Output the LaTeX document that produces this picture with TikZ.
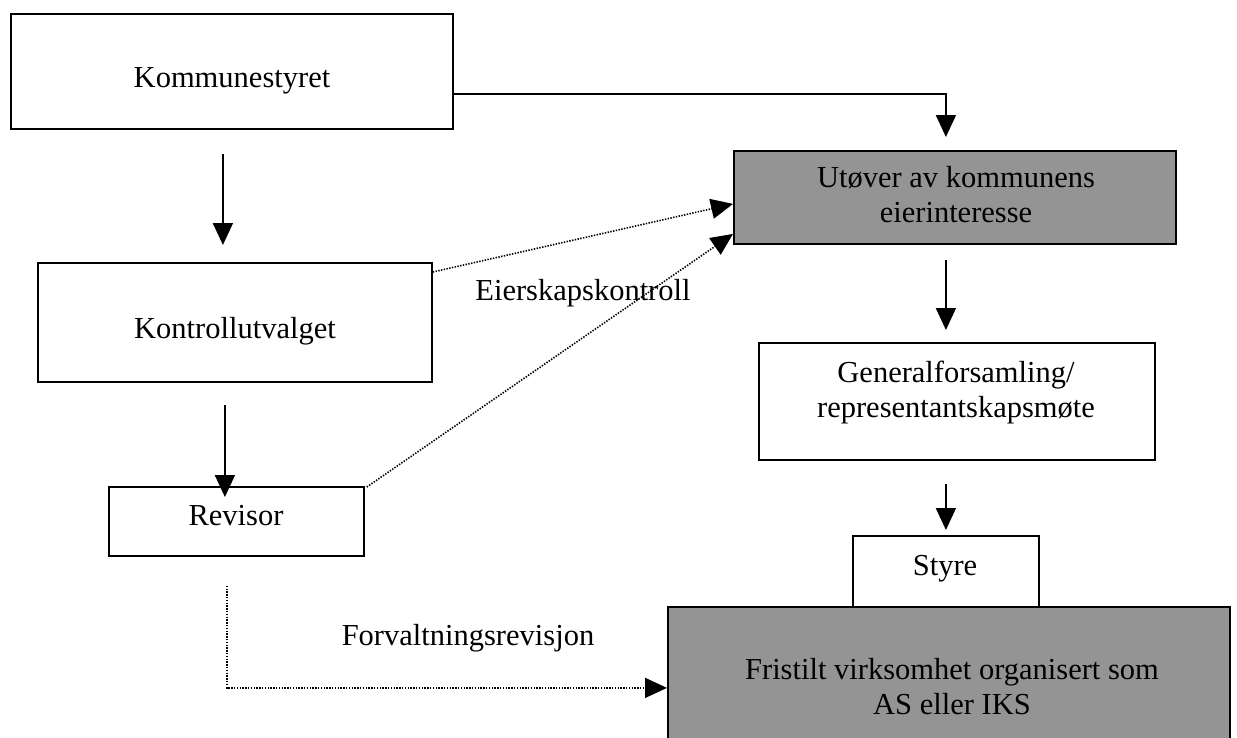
\documentclass[tikz,border=0pt]{standalone}
\usepackage{fontspec}
\setmainfont{Liberation Serif}
\usetikzlibrary{arrows.meta,calc}
\begin{document}
\begin{tikzpicture}[x=1pt,y=-1pt,
  box/.style={draw=black, line width=1.8pt, inner sep=0pt, anchor=north west},
  shaded/.style={box, fill=black!42},
  txt/.style={font=\fontsize{30.5}{35}\selectfont, anchor=base, inner sep=0pt},
  arr/.style={line width=1.8pt, -{Triangle[length=22pt,width=20pt]}},
  darr/.style={line width=1.6pt, dash pattern=on 1.4pt off 1.4pt, -{Triangle[length=22pt,width=20pt]}}
]
\useasboundingbox (0,0) rectangle (1237,737);
\clip (0,0) rectangle (1237,737);

% boxes
\node[box, minimum width=442pt, minimum height=115pt] (k) at (10,13) {};
\node[box, minimum width=394pt, minimum height=119pt] (kv) at (37,262) {};
\node[box, minimum width=255pt, minimum height=69pt] (rev) at (108,486) {};
\node[shaded, minimum width=442pt, minimum height=93pt] (u) at (733,150) {};
\node[box, minimum width=396pt, minimum height=117pt] (gen) at (758,342) {};
\node[box, minimum width=186pt, minimum height=72pt] (sty) at (852,535) {};
\node[shaded, minimum width=562pt, minimum height=180pt] (fr) at (667,606) {};

% texts
\node[txt] (kt) at (232,87) {Kommunestyret};
\node[txt] (kvt) at (235,338) {Kontrollutvalget};
\node[txt] (revt) at (236,525) {Revisor};
\node[txt] (ut1) at (956,187) {Utøver av kommunens};
\node[txt] (ut2) at (956,222) {eierinteresse};
\node[txt] (gt1) at (956,382) {Generalforsamling/};
\node[txt] (gt2) at (956,417) {representantskapsmøte};
\node[txt] (st) at (945,575) {Styre};
\node[txt] (ft1) at (952,679) {Fristilt virksomhet organisert som};
\node[txt] (ft2) at (952,714) {AS eller IKS};
\node[txt] (ek) at (583,300) {Eierskapskontroll};
\node[txt] (fv) at (468,645) {Forvaltningsrevisjon};

% connectors
\draw[arr, shorten >=13pt] ([yshift=-22.5pt]k.east) -| ([xshift=-9pt]u.north);
\draw[arr, shorten <=24pt, shorten >=17pt] ([xshift=-9pt]k.south) -- ([xshift=-12pt]kv.north);
\draw[arr, shorten <=22pt, shorten >=-11pt] ([xshift=-10pt]kv.south) -- ([xshift=-11.5pt]rev.north);
\draw[arr, shorten <=15pt, shorten >=12pt] (u.south -| sty.north) -- (gen.north -| sty.north);
\draw[arr, shorten <=23pt, shorten >=5pt] (gen.south -| sty.north) -- (sty.north);
\draw[darr] ([yshift=-10pt]kv.north east) -- ([yshift=-6.5pt]u.west);
\draw[darr] ([xshift=2pt,yshift=-1pt]rev.north east) -- ([yshift=-36.5pt]u.west);
\draw[darr] ([xshift=-9.5pt,yshift=-29pt]rev.south) |- ([yshift=9pt]fr.west);
\end{tikzpicture}
\end{document}
